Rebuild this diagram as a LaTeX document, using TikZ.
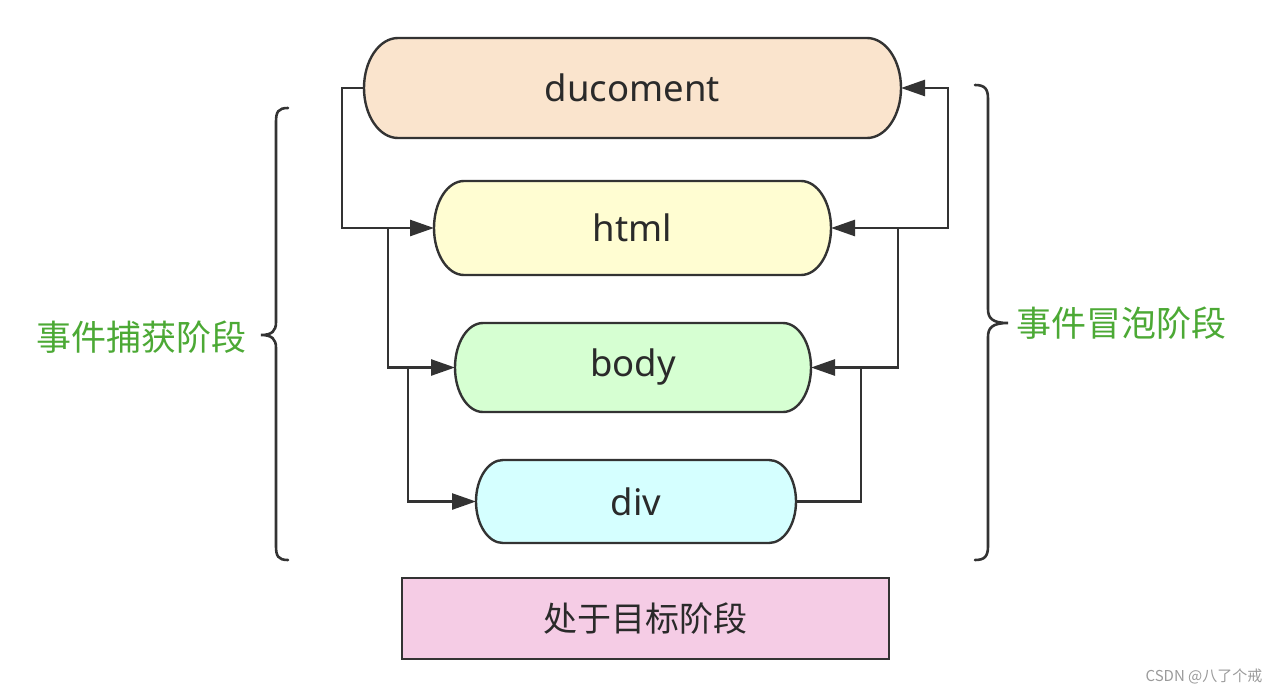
\documentclass[tikz,border=0pt]{standalone}
\usepackage{fontspec}
\setmainfont{Noto Sans}
\newfontfamily\cjk{Noto Sans CJK SC}
\usetikzlibrary{arrows.meta,backgrounds}
\definecolor{linec}{HTML}{333333}
\definecolor{textc}{HTML}{2A2A2A}
\definecolor{greenc}{HTML}{4CA935}
\definecolor{docc}{HTML}{FAE4CD}
\definecolor{htmlc}{HTML}{FFFDD2}
\definecolor{bodyc}{HTML}{D6FFD2}
\definecolor{divc}{HTML}{D5FFFF}
\definecolor{pinkc}{HTML}{F5CCE5}
\definecolor{wmc}{HTML}{9A9A9A}
\newcommand\pillshape[4]{% name, x radius, half height, fill
  \begin{scope}[on background layer]
    \draw[pill, fill=#4] ([xshift=#2]#1.north west) -- ([xshift=-#2]#1.north east)
      arc[start angle=90,end angle=-90,x radius=#2,y radius=#3]
      -- ([xshift=#2]#1.south west)
      arc[start angle=270,end angle=90,x radius=#2,y radius=#3] -- cycle;
  \end{scope}}
\begin{document}
\begin{tikzpicture}[x=1pt,y=-1pt,
  box/.style={draw=none, rectangle, inner sep=0pt, outer sep=0pt, text=textc,
    font=\fontsize{36.5}{42}\selectfont},
  pill/.style={draw=linec, line width=2.4pt},
  conn/.style={draw=linec, line width=2.6pt, line join=miter},
  arr/.style={conn, -{Triangle[length=24pt,width=16pt]}},
  brace/.style={draw=linec, line width=2.6pt, line cap=round},
  lab/.style={text=greenc, font=\cjk\fontsize{35}{40}\selectfont, inner sep=0pt}]
\useasboundingbox (0,0) rectangle (1282,694);

% nodes
\node[box, minimum width=537pt, minimum height=100pt] (doc) at (632.5,88) {ducoment};
\pillshape{doc}{34pt}{50pt}{docc}
\node[box, minimum width=397pt, minimum height=94pt] (html) at (632.5,228) {html};
\pillshape{html}{30pt}{47pt}{htmlc}
\node[box, minimum width=356pt, minimum height=89pt] (body) at (633,367.5) {body};
\pillshape{body}{28pt}{44.5pt}{bodyc}
\node[box, minimum width=320pt, minimum height=83pt] (div) at (636,501.5) {div};
\pillshape{div}{27pt}{41.5pt}{divc}

\node[draw=linec, line width=2.4pt, fill=pinkc, minimum width=487pt, minimum height=81pt,
  inner sep=0pt, text=textc, font=\cjk\fontsize{34}{40}\selectfont] (target) at (645.5,618.5) {处于目标阶段};

% capture (left)
\coordinate (l1) at (342,88);
\coordinate (l2) at (388,228);
\coordinate (l3) at (408,367.5);
\draw[arr] (doc.west) -- (l1) |- (html.west);
\draw[arr] (l2) |- (body.west);
\draw[arr] (l3) |- (div.west);

% bubble (right)
\coordinate (r1) at (861,367.5);
\coordinate (r2) at (898,367.5);
\coordinate (r3) at (898,228);
\coordinate (r4) at (948,228);
\draw[arr] (div.east) -| (r1) -- (body.east);
\draw[arr] (r1) -- (r2) |- (html.east);
\draw[arr] (r3) -- (r4) |- (doc.east);

% braces
\draw[brace] (288,108) .. controls (278,108) and (276,112) .. (276,122) -- (276,322)
  .. controls (276,331) and (272,335) .. (261,335)
  .. controls (272,335) and (276,339) .. (276,348) -- (276,546)
  .. controls (276,556) and (278,560) .. (288,560);
\draw[brace] (975,85) .. controls (985,85) and (988,89) .. (988,99) -- (988,309)
  .. controls (988,318) and (992,323) .. (1008,323)
  .. controls (992,323) and (988,328) .. (988,337) -- (988,546)
  .. controls (988,556) and (985,560) .. (975,560);

% labels
\node[lab] (caplab) at (141,337) {事件捕获阶段};
\node[lab] (bublab) at (1121,323) {事件冒泡阶段};
\node[text=wmc, font=\cjk\fontsize{15}{18}\selectfont, inner sep=0pt] (wm) at (1204,676) {CSDN @八了个戒};
\end{tikzpicture}
\end{document}
